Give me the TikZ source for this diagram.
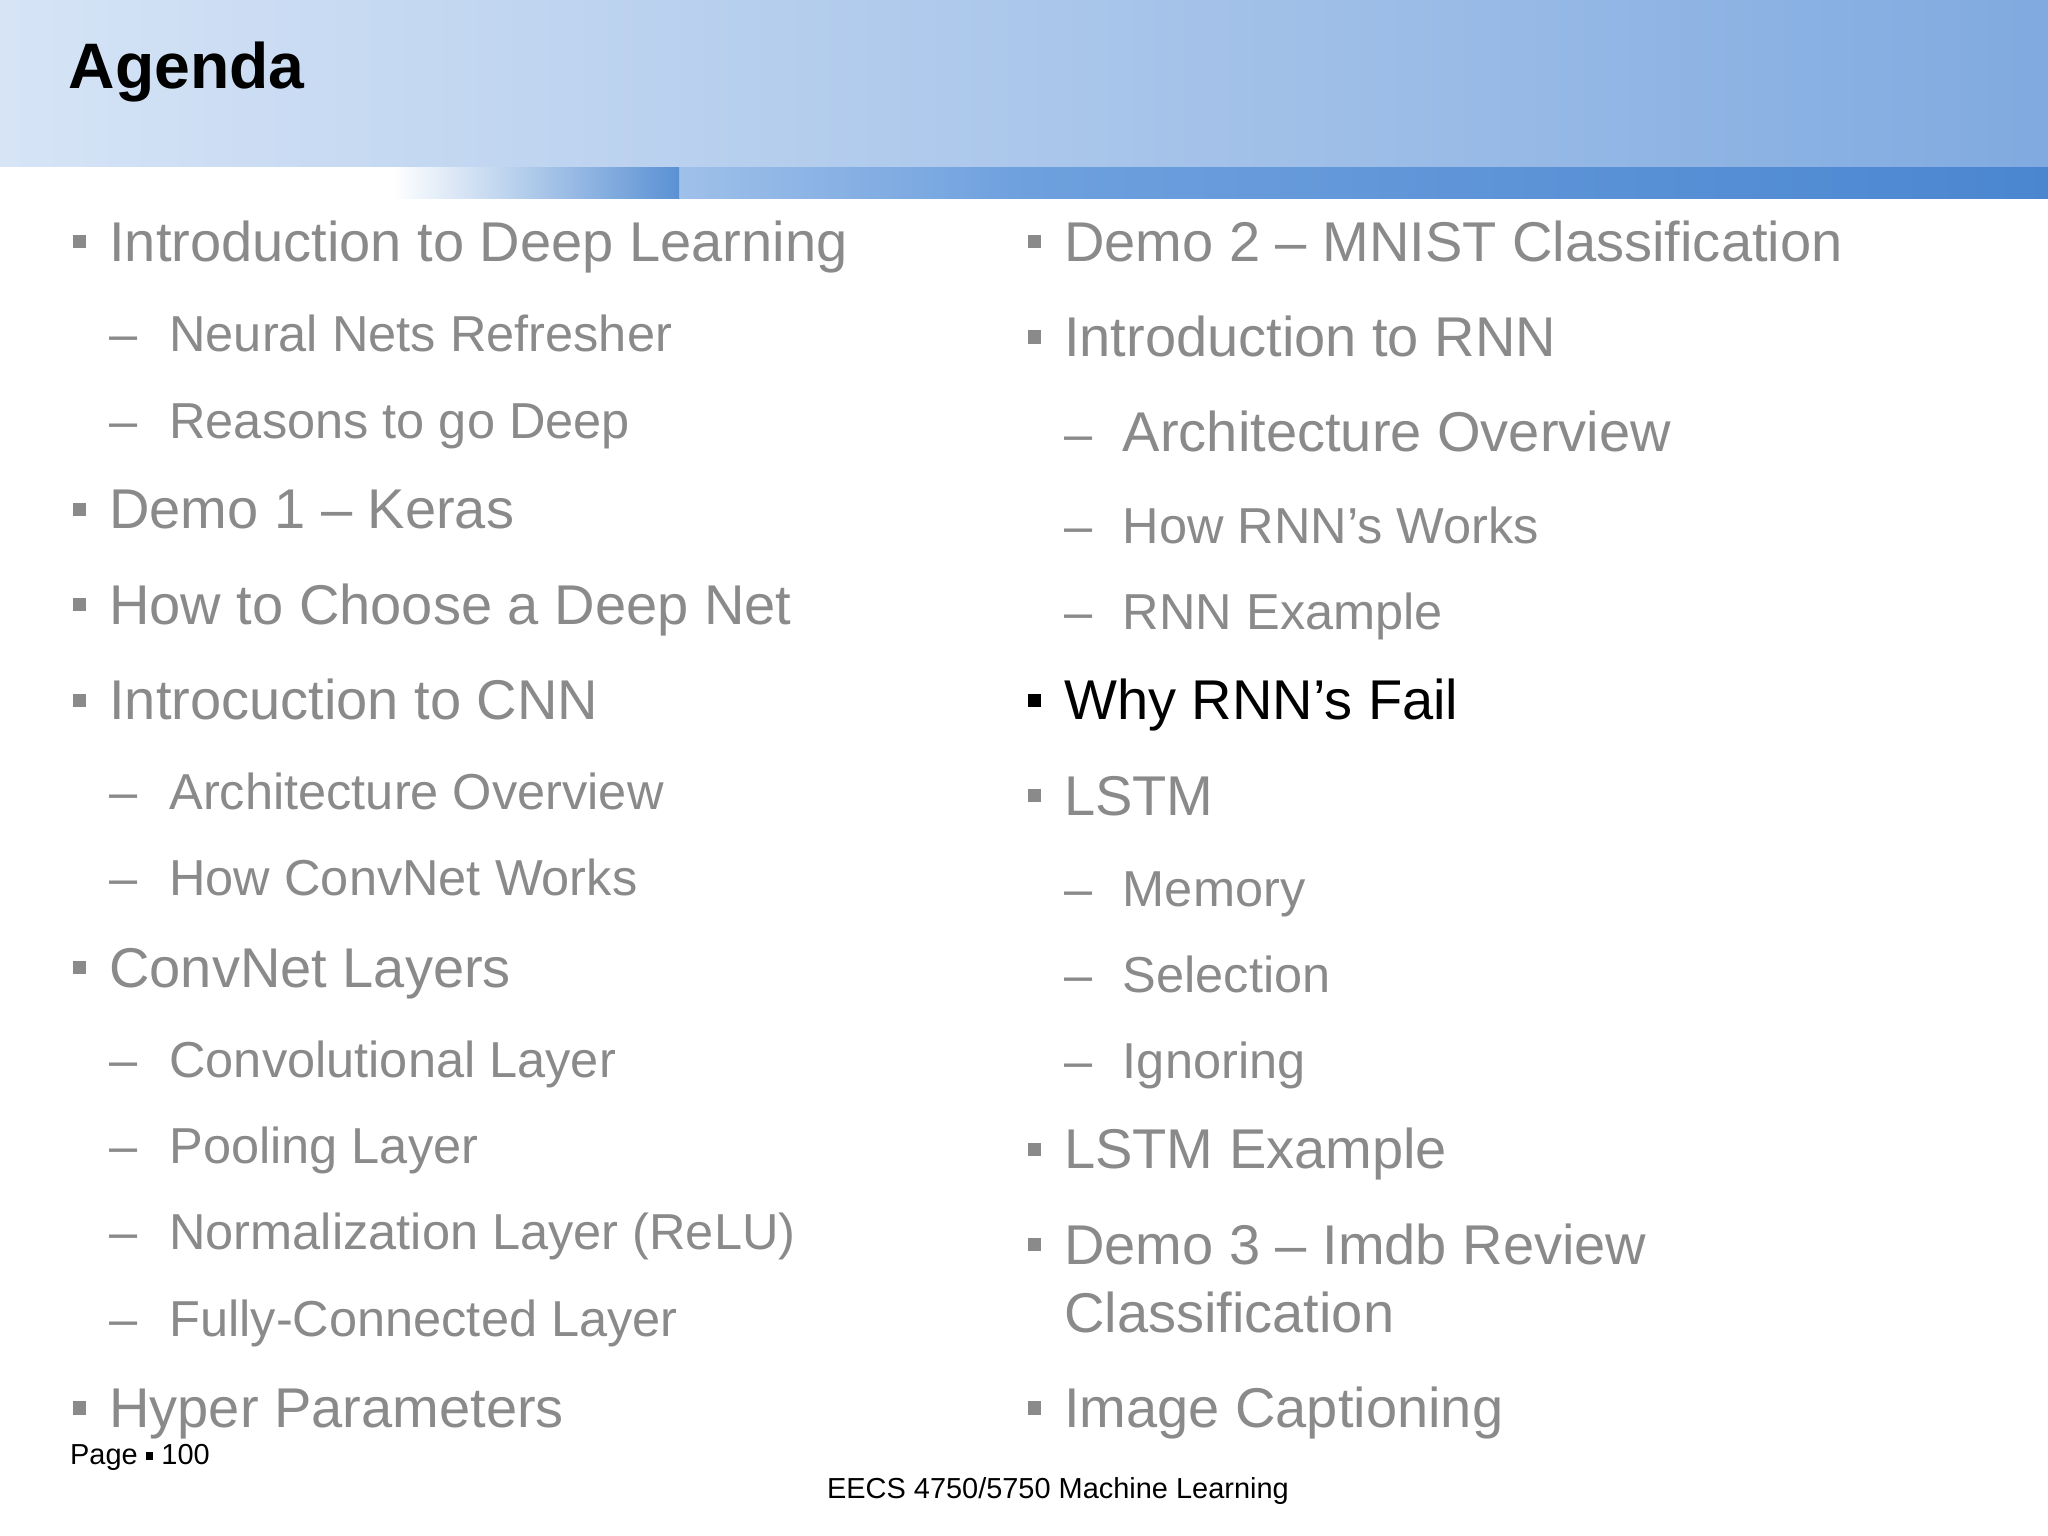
\documentclass[tikz,border=0pt]{standalone}
\usepackage{fontspec}
\setmainfont{Liberation Sans}
\definecolor{tg}{HTML}{8A8A8A}
\begin{document}
\begin{tikzpicture}[x=0.01cm,y=-0.01cm,
 mainL/.style={anchor=base west,inner sep=0,text=tg,font=\fontsize{12.2pt}{14pt}\selectfont},
 subL/.style={anchor=base west,inner sep=0,text=tg,font=\fontsize{11pt}{13pt}\selectfont},
 subR/.style={anchor=base west,inner sep=0,text=tg,font=\fontsize{11pt}{13pt}\selectfont},
 sq/.style={fill=tg,minimum size=0.1cm,inner sep=0},
 dsh/.style={anchor=base west,inner sep=0,text=tg,font=\fontsize{11pt}{13pt}\selectfont}]
\useasboundingbox (0,0) rectangle (1568,1176);
\shade[left color={rgb,255:red,214;green,228;blue,246},right color={rgb,255:red,128;green,170;blue,224}] (0,0) rectangle (1568,128);
\shade[left color=white,right color={rgb,255:red,74;green,134;blue,208},middle color={rgb,255:red,110;green,160;blue,222}] (0,128) rectangle (1568,152);
\fill[white] (0,128) rectangle (300,152);
\shade[left color=white,right color={rgb,255:red,90;green,145;blue,212}] (300,128) rectangle (520,152);
\node[anchor=base west,inner sep=0,font=\fontsize{14pt}{16pt}\selectfont\bfseries] (title) at (52,68) {Agenda};
% left column
\foreach \y/\t [count=\i] in {200/Introduction to Deep Learning,405/Demo 1 -- Keras,478/How to Choose a Deep Net,551/Introcuction to CNN,756/ConvNet Layers,1093/Hyper Parameters}{
 \node[sq] (lb\i) at (61,\y-15) {};
 \node[mainL] (lt\i) at (83,\y) {\t};}
\foreach \y/\t [count=\i] in {269/Neural Nets Refresher,336/Reasons to go Deep,620/Architecture Overview,686/How ConvNet Works,825/Convolutional Layer,891/Pooling Layer,957/Normalization Layer (ReLU),1023/Fully-Connected Layer}{
 \node[dsh] (ld\i) at (83,\y) {--};
 \node[subL] (ls\i) at (129,\y) {\t};}
% right column
\foreach \y/\t [count=\i] in {200/Demo 2 -- MNIST Classification,273/Introduction to RNN,624/LSTM,895/LSTM Example,968/Demo 3 -- Imdb Review,1093/Image Captioning}{
 \node[sq] (rb\i) at (792,\y-15) {};
 \node[mainL] (rt\i) at (814,\y) {\t};}
\node[mainL] (rt7) at (814,1020) {Classification};
\node[sq,fill=black] (rb8) at (792,536) {};
\node[mainL,text=black] (rt8) at (814,551) {Why RNN’s Fail};
\node[dsh] (rd1) at (814,346) {--};
\node[mainL] (rs1) at (859,346) {Architecture Overview};
\foreach \y/\t [count=\i from 2] in {416/How RNN’s Works,482/RNN Example,694/Memory,760/Selection,826/Ignoring}{
 \node[dsh] (rd\i) at (814,\y) {--};
 \node[subR] (rs\i) at (859,\y) {\t};}
\node[anchor=base west,inner sep=0,font=\fontsize{6.3pt}{7pt}\selectfont] (pg) at (53,1121) {Page \raisebox{0.3ex}{\rule{0.5ex}{0.5ex}} 100};
\node[anchor=base,inner sep=0,font=\fontsize{6.3pt}{7pt}\selectfont] (ft) at (810,1147) {EECS 4750/5750 Machine Learning};
\end{tikzpicture}
\end{document}
